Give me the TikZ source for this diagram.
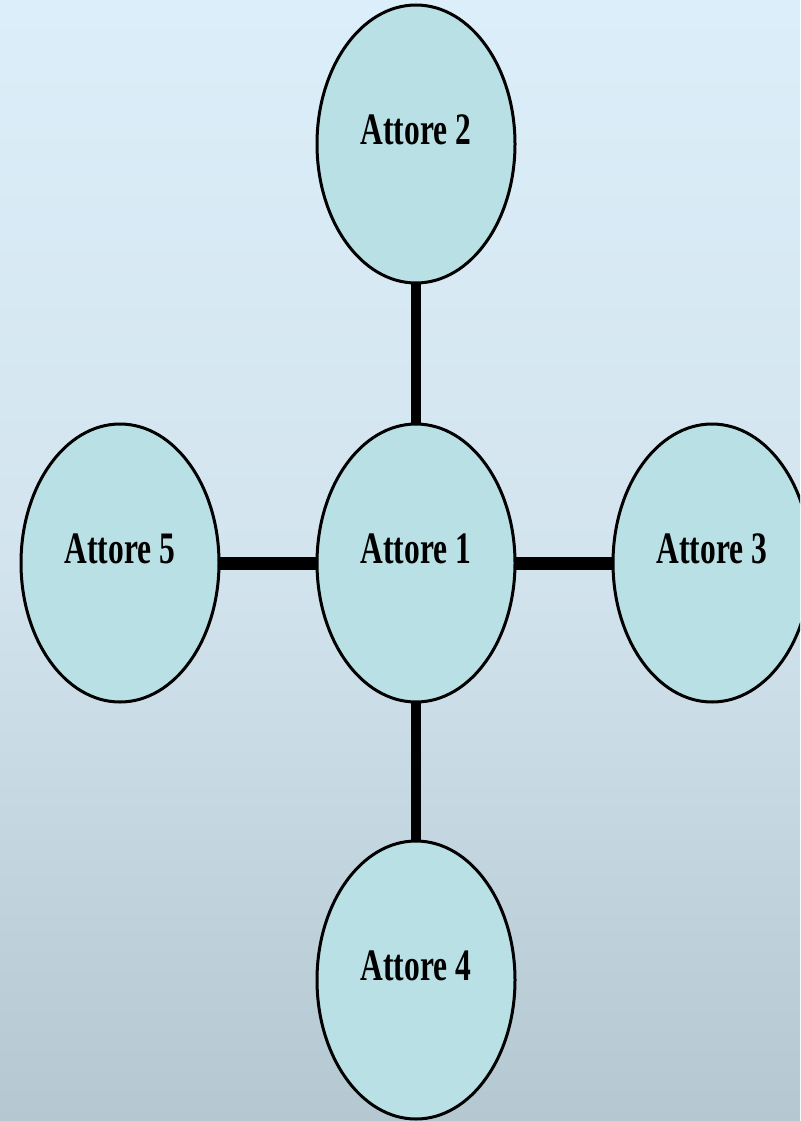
\documentclass[tikz,border=0pt]{standalone}
\usepackage{fontspec}
\usepackage{graphicx}
\setmainfont{Liberation Serif}
\usetikzlibrary{shapes.geometric}
\definecolor{bgtop}{HTML}{DCEEF9}
\definecolor{bgmid}{HTML}{D3E4EE}
\definecolor{bgbot}{HTML}{B4C8D2}
\definecolor{actfill}{HTML}{B9E0E4}
\tikzset{
  actor/.style={ellipse, draw=black, line width=3pt, fill=actfill,
    minimum width=198pt, minimum height=278pt, inner sep=0pt, outer sep=0pt,
    text height=30pt, text depth=30pt,
    font=\bfseries\fontsize{45}{45}\selectfont},
  vlink/.style={line width=10pt, black},
  hlink/.style={line width=13pt, black}
}
\newcommand{\actlabel}[1]{\scalebox{0.7}[1]{#1}}
\begin{document}
\begin{tikzpicture}[x=1pt,y=-1pt]
\useasboundingbox (0,0) rectangle (800,1121);
\clip (0,0) rectangle (800,1121);
\shade[top color=bgtop, bottom color=bgbot, middle color=bgmid] (0,0) rectangle (800,1121);
\node[actor] (a1) at (416,563) {\actlabel{Attore 1}};
\node[actor] (a2) at (416,144) {\actlabel{Attore 2}};
\node[actor] (a3) at (712,563) {\actlabel{Attore 3}};
\node[actor] (a4) at (416,980) {\actlabel{Attore 4}};
\node[actor] (a5) at (120,563) {\actlabel{Attore 5}};
\draw[vlink] (a2.south) -- (a1.north);
\draw[vlink] (a1.south) -- (a4.north);
\draw[hlink] (a5.east) -- (a1.west);
\draw[hlink] (a1.east) -- (a3.west);
\end{tikzpicture}
\end{document}
